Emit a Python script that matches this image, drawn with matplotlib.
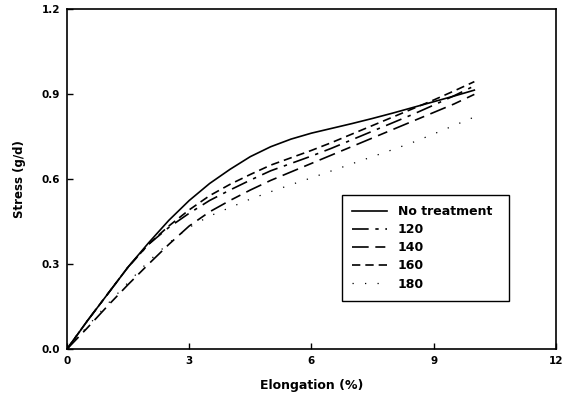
import matplotlib
matplotlib.use("Agg")
import matplotlib.pyplot as plt
from matplotlib.patches import Rectangle

elongation = [0, 0.5, 1, 1.5, 2, 2.5, 3, 3.5, 4, 4.5, 5, 5.5, 6, 6.5, 7, 7.5, 8, 8.5, 9, 9.5, 10]
no_treatment = [0, 0.10, 0.195, 0.29, 0.375, 0.455, 0.525, 0.585, 0.635, 0.68, 0.715, 0.742, 0.763, 0.78, 0.797, 0.815, 0.834, 0.854, 0.874, 0.894, 0.915]
t120 = [0, 0.10, 0.195, 0.29, 0.37, 0.43, 0.48, 0.525, 0.562, 0.597, 0.63, 0.656, 0.682, 0.71, 0.74, 0.77, 0.80, 0.83, 0.862, 0.895, 0.93]
t140 = [0, 0.075, 0.153, 0.228, 0.30, 0.37, 0.435, 0.485, 0.525, 0.562, 0.596, 0.626, 0.656, 0.686, 0.716, 0.746, 0.776, 0.806, 0.836, 0.866, 0.90]
t160 = [0, 0.10, 0.195, 0.29, 0.37, 0.435, 0.492, 0.542, 0.582, 0.617, 0.65, 0.676, 0.702, 0.73, 0.76, 0.79, 0.82, 0.85, 0.88, 0.912, 0.945]
t180 = [0, 0.08, 0.16, 0.235, 0.31, 0.375, 0.43, 0.47, 0.50, 0.53, 0.556, 0.581, 0.605, 0.63, 0.655, 0.68, 0.705, 0.731, 0.76, 0.79, 0.82]

labels = ["No treatment", "120", "140", "160", "180"]
xticks = [0, 3, 6, 9, 12]
yticks = [0.0, 0.3, 0.6, 0.9, 1.2]

plt.rcParams['font.family'] = ['DejaVu Sans']
plt.rcParams['font.weight'] = 'bold'

fig = plt.figure(figsize=(5.69, 4.04), dpi=100)
ax = fig.add_axes([0.1178, 0.136, 0.859, 0.8405])

lw = 1.2
ax.plot(elongation, no_treatment, color='black', lw=lw, linestyle='-', label=labels[0])
ax.plot(elongation, t120, color='black', lw=lw, linestyle=(0, (10, 4, 2, 4)), label=labels[1])
ax.plot(elongation, t140, color='black', lw=lw, linestyle=(0, (10, 4, 6, 4)), label=labels[2])
ax.plot(elongation, t160, color='black', lw=lw, linestyle=(0, (5, 3)), label=labels[3])
ax.plot(elongation, t180, color='black', lw=0.9, linestyle=(0, (1, 9)), label=labels[4])

ax.set_xlim(0, 12)
ax.set_ylim(0, 1.2)
ax.set_xticks(xticks)
ax.set_xticklabels([str(t) for t in xticks])
ax.set_yticks(yticks)
ax.set_yticklabels([f"{t:.1f}" for t in yticks])
ax.tick_params(direction='in', length=4, width=1, labelsize=7.5, pad=5)
for s in ax.spines.values():
    s.set_linewidth(1.2)

ax.set_xlabel("Elongation (%)", fontsize=9, fontweight='bold', labelpad=9)
ax.set_ylabel("Stress (g/d)", fontsize=8.5, fontweight='bold', labelpad=11)

ax.add_patch(Rectangle((0.5624, 0.1414), 0.3415, 0.312, transform=ax.transAxes,
                       facecolor='white', edgecolor='black', lw=1.0, zorder=4))
leg = ax.legend(loc='upper left', bbox_to_anchor=(0.583, 0.424), frameon=False,
                fontsize=9, borderpad=0, borderaxespad=0,
                handlelength=2.8, handletextpad=0.88, labelspacing=0.41)
leg.set_zorder(5)
for t in leg.get_texts():
    t.set_fontweight('bold')

fig.savefig("out.png", dpi=100)
